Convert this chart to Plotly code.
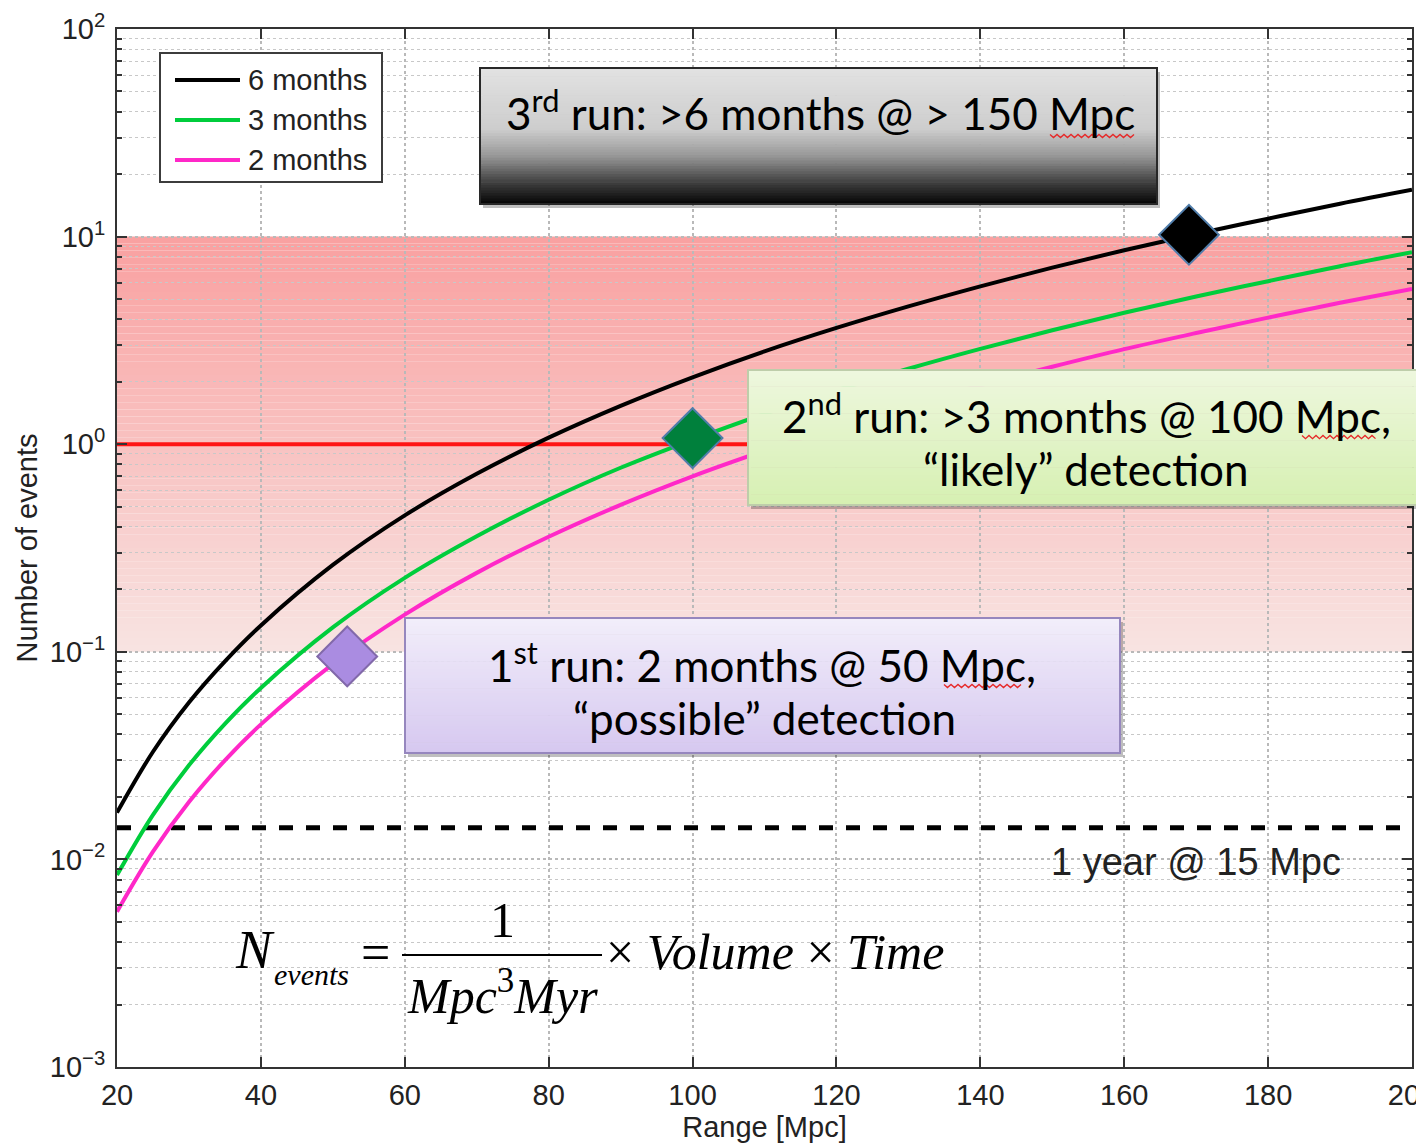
import numpy as np
import plotly.graph_objects as go

# data
range_mpc = [20, 25, 30, 35, 40, 50, 60, 70, 80, 90, 100, 110, 120, 130, 140, 150, 160, 170, 180, 190, 200]
events_6mo = [0.0168, 0.033, 0.057, 0.090, 0.134, 0.262, 0.454, 0.72, 1.075, 1.53, 2.10, 2.80, 3.63, 4.61, 5.76, 7.09, 8.6, 10.3, 12.2, 14.4, 16.8]
events_3mo = [0.0084, 0.0164, 0.0284, 0.045, 0.067, 0.131, 0.227, 0.36, 0.54, 0.77, 1.05, 1.40, 1.82, 2.31, 2.88, 3.54, 4.3, 5.15, 6.1, 7.2, 8.4]
events_2mo = [0.0056, 0.0109, 0.0189, 0.030, 0.0447, 0.0873, 0.151, 0.24, 0.358, 0.51, 0.70, 0.93, 1.21, 1.54, 1.92, 2.36, 2.87, 3.43, 4.07, 4.8, 5.6]

run_range = [52, 100, 169]
run_events = [0.095, 1.07, 10.2]

one_event = 1
year_15mpc = 0.0142
band_low, band_high = 0.1, 10

x_ticks = [20, 40, 60, 80, 100, 120, 140, 160, 180, 200]
y_ticks = [1e-3, 1e-2, 1e-1, 1, 10, 100]
y_ticktext = ["10<sup>−3</sup>", "10<sup>−2</sup>", "10<sup>−1</sup>", "10<sup>0</sup>", "10<sup>1</sup>", "10<sup>2</sup>"]

W, H = 1416, 1145
L, R, T, B = 117, 4, 29, 78
PW, PH = W - L - R, H - T - B


def px(x):
    return (x - L) / PW


def py(y):
    return (H - B - y) / PH


def mix(c0, c1, t):
    return "rgb(%d,%d,%d)" % tuple(round(a + (b - a) * t) for a, b in zip(c0, c1))


fig = go.Figure()

# red line at 1 event
fig.add_trace(go.Scatter(x=[range_mpc[0], range_mpc[-1]], y=[one_event, one_event], mode="lines",
                         line=dict(color="rgb(255,20,20)", width=4), showlegend=False, hoverinfo="skip"))
# 1 year @ 15 Mpc
fig.add_trace(go.Scatter(x=[range_mpc[0], range_mpc[-1]], y=[year_15mpc, year_15mpc], mode="lines",
                         line=dict(color="black", width=5, dash="14px,13px"), showlegend=False, hoverinfo="skip"))

curves = [("6 months", events_6mo, "black"),
          ("3 months", events_3mo, "rgb(0,205,60)"),
          ("2 months", events_2mo, "rgb(255,40,200)")]
for name, vals, col in curves:
    fig.add_trace(go.Scatter(x=range_mpc, y=vals, mode="lines", name=name,
                             line=dict(color=col, width=4, shape="spline"), showlegend=False))

fig.add_trace(go.Scatter(
    x=run_range, y=run_events, mode="markers", showlegend=False,
    marker=dict(symbol="diamond", size=46,
                color=["rgb(170,140,225)", "rgb(0,128,60)", "black"],
                line=dict(color=["rgb(130,105,170)", "rgb(80,125,170)", "rgb(80,125,170)"], width=2))))

shapes = []

# shaded band, gradient from light (bottom) to stronger pink (top)
n = 60
edges = np.logspace(np.log10(band_low), np.log10(band_high), n + 1)
for i in range(n):
    t = (i + 0.5) / n
    shapes.append(dict(type="rect", xref="x", yref="y", x0=range_mpc[0], x1=range_mpc[-1],
                       y0=edges[i], y1=edges[i + 1], layer="below", line_width=0,
                       fillcolor=mix((248, 228, 226), (249, 160, 160), t)))


def grad_box(x0, x1, y0, y1, stops, border, bw=2, n=50):
    # shadow
    shapes.append(dict(type="rect", xref="paper", yref="paper", x0=px(x0 + 3), x1=px(x1 + 3),
                       y0=py(y1 + 4), y1=py(y0 + 4), line_width=0, fillcolor="rgba(0,0,0,0.25)"))
    fs = [s[0] for s in stops]
    for i in range(n):
        f = (i + 0.5) / n
        c = [np.interp(f, fs, [s[1][k] for s in stops]) for k in range(3)]
        ya = y0 + (y1 - y0) * i / n
        yb = y0 + (y1 - y0) * (i + 1) / n + 0.6
        shapes.append(dict(type="rect", xref="paper", yref="paper", x0=px(x0), x1=px(x1),
                           y0=py(min(yb, y1)), y1=py(ya), line_width=0,
                           fillcolor="rgb(%d,%d,%d)" % tuple(round(v) for v in c)))
    shapes.append(dict(type="rect", xref="paper", yref="paper", x0=px(x0), x1=px(x1),
                       y0=py(y1), y1=py(y0), line=dict(color=border, width=bw)))


def squiggle(x0, x1, y):
    # red spell-check underline
    pts = []
    for i, xx in enumerate(np.arange(x0, x1, 3.5)):
        yy = y + (1.6 if i % 2 else -1.6)
        pts.append("%s%.5f,%.5f" % ("M" if i == 0 else "L", px(xx), py(yy)))
    shapes.append(dict(type="path", xref="paper", yref="paper", path=" ".join(pts),
                       line=dict(color="rgb(230,40,40)", width=1.3)))


grad_box(480, 1157, 68, 204,
         [(0, (226, 226, 226)), (0.45, (205, 205, 205)), (0.65, (150, 150, 150)),
          (0.85, (60, 60, 60)), (1, (5, 5, 5))], "rgb(40,40,40)")
grad_box(748, 1420, 370, 505,
         [(0, (238, 247, 222)), (1, (214, 240, 178))], "rgb(190,205,170)")
grad_box(405, 1120, 618, 753,
         [(0, (242, 238, 250)), (1, (214, 200, 240))], "rgb(150,135,190)")
squiggle(1050, 1136, 136)
squiggle(1302, 1378, 437)
squiggle(944, 1024, 686)

# legend box
shapes.append(dict(type="rect", xref="paper", yref="paper", x0=px(160), x1=px(382), y0=py(182), y1=py(53),
                   fillcolor="white", line=dict(color="rgb(60,60,60)", width=2)))
annotations = []
for k, (name, vals, col) in enumerate(curves):
    yy = 80 + 40 * k
    shapes.append(dict(type="line", xref="paper", yref="paper", x0=px(175), x1=px(240), y0=py(yy), y1=py(yy),
                       line=dict(color=col, width=4)))
    annotations.append(dict(xref="paper", yref="paper", x=px(246), y=py(yy), text=name, showarrow=False,
                            xanchor="left", yanchor="middle",
                            font=dict(family="Liberation Sans", size=29, color="#222")))

# fraction bar of the formula
shapes.append(dict(type="line", xref="paper", yref="paper", x0=px(402), x1=px(602), y0=py(955), y1=py(955),
                   line=dict(color="black", width=2)))

box_font = dict(family="Lato", size=44, color="black")
for txt, x, y in [("3<sup>rd</sup> run: >6 months @ > 150 Mpc", 820, 110),
                  ("2<sup>nd</sup> run: >3 months @ 100 Mpc,", 1086, 413),
                  ("“likely” detection", 1086, 469),
                  ("1<sup>st</sup> run: 2 months @ 50 Mpc,", 762, 662),
                  ("“possible” detection", 764, 718)]:
    annotations.append(dict(xref="paper", yref="paper", x=px(x), y=py(y), text=txt, showarrow=False,
                            xanchor="center", yanchor="middle", font=box_font))

annotations.append(dict(xref="paper", yref="paper", x=px(1196), y=py(862), text="1 year @ 15 Mpc",
                        showarrow=False, xanchor="center", yanchor="middle",
                        font=dict(family="Liberation Sans", size=38, color="#222")))

serif = "Liberation Serif"
for txt, x, y, size, anchor in [("<i>N</i>", 255, 950, 54, "center"),
                                ("<i>events</i>", 272, 974, 30, "left"),
                                ("=", 375, 952, 52, "center"),
                                ("1", 502, 920, 50, "center"),
                                ("<i>Mpc</i><sup>3</sup><i>Myr</i>", 502, 992, 50, "center"),
                                ("× <i>Volume</i> × <i>Time</i>", 604, 952, 50, "left")]:
    annotations.append(dict(xref="paper", yref="paper", x=px(x), y=py(y), text=txt, showarrow=False,
                            xanchor=anchor, yanchor="middle", font=dict(family=serif, size=size, color="black")))

minor_vals = [k * 10.0 ** e for e in range(-3, 2) for k in range(2, 10)]

fig.update_layout(
    width=W, height=H,
    margin=dict(l=L, r=R, t=T, b=B, autoexpand=False),
    paper_bgcolor="white", plot_bgcolor="white",
    shapes=shapes, annotations=annotations,
    font=dict(family="Liberation Sans", size=29, color="#222"),
    xaxis=dict(range=[20, 200], tickvals=x_ticks, ticks="inside", ticklen=10, tickwidth=2, tickcolor="#333",
               showline=True, linecolor="#333", linewidth=2, mirror="ticks", automargin=False,
               showgrid=True, gridcolor="rgb(185,185,185)", griddash="dot", gridwidth=1.5,
               zeroline=False, ticklabelstandoff=1, ticklabeloverflow="allow",
               title=dict(text="Range [Mpc]", standoff=4, font=dict(size=29))),
    yaxis=dict(type="log", range=[-3, 2], tickvals=y_ticks, ticktext=y_ticktext, ticks="inside", ticklen=10,
               tickwidth=2, tickcolor="#333", showline=True, linecolor="#333", linewidth=2, mirror="ticks",
               showgrid=True, gridcolor="rgb(185,185,185)", griddash="dot", gridwidth=1.5,
               zeroline=False, ticklabelstandoff=4, automargin=False,
               minor=dict(tickvals=minor_vals, ticks="inside", ticklen=5, tickcolor="#333",
                          showgrid=True, gridcolor="rgb(200,200,200)", griddash="dot", gridwidth=1.2),
               title=dict(text="Number of events", standoff=4, font=dict(size=29))),
)

fig.write_html("out.html", post_script="document.body.style.margin='0';",
               config={"displayModeBar": False})
